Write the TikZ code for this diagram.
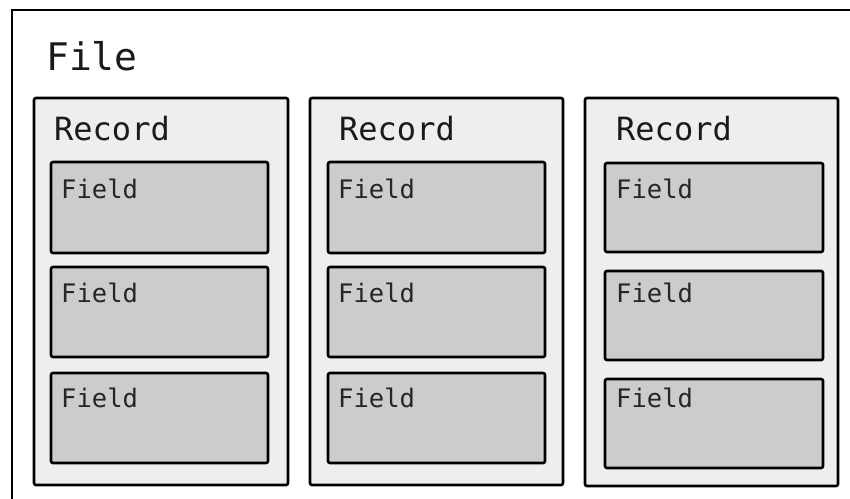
\documentclass[tikz,border=0pt]{standalone}
\usepackage{fontspec}
\setmonofont{DejaVu Sans Mono}
\usetikzlibrary{fit}
\definecolor{recfill}{HTML}{EEEEEE}
\definecolor{fldfill}{HTML}{CCCCCC}
\definecolor{txt}{HTML}{1A1A1A}
\tikzset{
  filebox/.style={draw=black, line width=2.6pt, fill=white, inner sep=0pt, outer sep=0pt},
  recbox/.style={draw=black, line width=2.6pt, fill=recfill, rounded corners=2pt, inner sep=0pt, outer sep=0pt},
  fldbox/.style={draw=black, line width=2.6pt, fill=fldfill, rounded corners=2pt, inner sep=0pt, outer sep=0pt},
  filelbl/.style={anchor=base west, inner sep=0pt, text=txt, font=\ttfamily\fontsize{38}{40}\selectfont},
  reclbl/.style={anchor=base west, inner sep=0pt, text=txt, font=\ttfamily\fontsize{32}{34}\selectfont},
  fldlbl/.style={anchor=base west, inner sep=0pt, text=black!85, font=\ttfamily\fontsize{25.5}{28}\selectfont},
}
\begin{document}
\begin{tikzpicture}[x=1pt,y=-1pt]
\useasboundingbox (0,0) rectangle (850,498);
\clip (0,0) rectangle (850,498);
\node[filebox, fit={(12,10) (880,530)}] (file) {};
\node[filelbl] (filet) at (46,70) {File};
% records
\node[recbox, fit={(34,98) (288,485)}] (r1) {};
\node[recbox, fit={(310,98) (563,485)}] (r2) {};
\node[recbox, fit={(585,98) (838,486)}] (r3) {};
\node[reclbl] (r1t) at (54,140) {Record};
\node[reclbl] (r2t) at (339,140) {Record};
\node[reclbl] (r3t) at (616,140) {Record};
% fields record 1
\node[fldbox, fit={(51,162) (268,253)}] (f11) {};
\node[fldbox, fit={(51,267) (268,357)}] (f12) {};
\node[fldbox, fit={(51,373) (268,463)}] (f13) {};
% fields record 2
\node[fldbox, fit={(328,162) (545,253)}] (f21) {};
\node[fldbox, fit={(328,267) (545,357)}] (f22) {};
\node[fldbox, fit={(328,373) (545,463)}] (f23) {};
% fields record 3
\node[fldbox, fit={(605,163) (823,252)}] (f31) {};
\node[fldbox, fit={(605,271) (823,360)}] (f32) {};
\node[fldbox, fit={(605,379) (823,468)}] (f33) {};
% field labels
\node[fldlbl] (f11t) at (61,198) {Field};
\node[fldlbl] (f12t) at (61,302) {Field};
\node[fldlbl] (f13t) at (61,407) {Field};
\node[fldlbl] (f21t) at (338,198) {Field};
\node[fldlbl] (f22t) at (338,302) {Field};
\node[fldlbl] (f23t) at (338,407) {Field};
\node[fldlbl] (f31t) at (616,198) {Field};
\node[fldlbl] (f32t) at (616,302) {Field};
\node[fldlbl] (f33t) at (616,407) {Field};
\end{tikzpicture}
\end{document}
